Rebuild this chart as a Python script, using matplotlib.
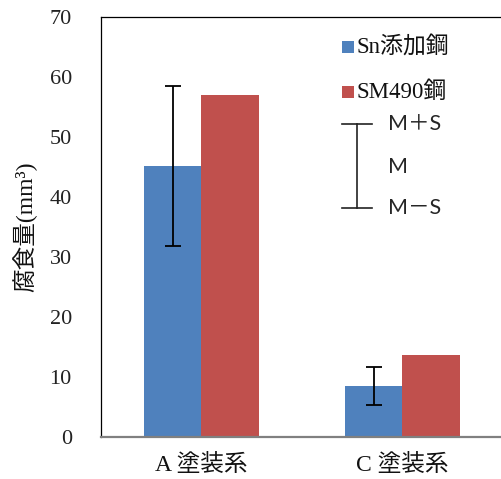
import matplotlib
matplotlib.use("Agg")
import matplotlib.pyplot as plt
from matplotlib.patches import Rectangle
from matplotlib.lines import Line2D
import numpy as np

categories = ["A 塗装系", "C 塗装系"]
series_names = ["Sn添加鋼", "SM490鋼"]
sn_values = [45.2, 8.5]
sn_err_upper = [58.5, 11.7]
sn_err_lower = [31.8, 5.3]
sm_values = [57.0, 13.7]
colors = ["#4F81BD", "#C0504D"]
yticks = [0, 10, 20, 30, 40, 50, 60, 70]

W, H = 502, 479
SERIF = ["Liberation Serif", "Noto Sans CJK JP"]
SANS = ["Lato", "Noto Sans CJK JP"]

fig = plt.figure(figsize=(W / 100, H / 100), dpi=100)

def fx(x):
    return x / W

def fy(y):
    return 1 - y / H

ax = fig.add_axes([fx(101), fy(437), 402 / W, 420 / H])
x = np.arange(len(categories))
bw = 0.285
yerr = np.array([np.array(sn_values) - np.array(sn_err_lower),
                 np.array(sn_err_upper) - np.array(sn_values)])
ax.bar(x - bw / 2, sn_values, bw, color=colors[0], zorder=2,
       yerr=yerr, error_kw=dict(ecolor="black", elinewidth=1.3, capsize=5.5, capthick=1.3, zorder=3))
ax.bar(x + bw / 2, sm_values, bw, color=colors[1], zorder=2)

ax.set_xlim(-0.5, 1.5)
ax.set_ylim(0, 70)
ax.set_yticks(yticks)
ax.set_yticklabels([str(v) for v in yticks], fontfamily=SERIF, fontsize=16, color="#222222")
ax.set_xticks(x)
ax.set_xticklabels(categories, fontfamily=SERIF, fontsize=17, color="#111111")
ax.tick_params(axis="y", length=0, pad=21)
ax.tick_params(axis="x", length=0, pad=12)
for s in ["left", "top", "right"]:
    ax.spines[s].set_color("black")
    ax.spines[s].set_linewidth(0.9)
ax.spines["bottom"].set_color("#808080")
ax.spines["bottom"].set_linewidth(1.6)

fig.text(fx(25), fy(227), "腐食量(mm³)", rotation=90, ha="center", va="center",
         fontfamily=SERIF, fontsize=17, color="#111111")

# legend for series
for i, (name, y) in enumerate(zip(series_names, [47, 92])):
    fig.add_artist(Rectangle((fx(342), fy(y + 6)), 12 / W, 12 / H,
                             transform=fig.transFigure, facecolor=colors[i], edgecolor="none"))
    fig.text(fx(357), fy(y), name, ha="left", va="center", fontfamily=SERIF,
             fontsize=16.5, color="#111111")

# error bar key
fig.add_artist(Line2D([fx(357), fx(357)], [fy(124), fy(208)], transform=fig.transFigure,
                      color="#222222", lw=1.2))
for yy in [124, 208]:
    fig.add_artist(Line2D([fx(342), fx(372)], [fy(yy), fy(yy)], transform=fig.transFigure,
                          color="#222222", lw=1.2))
for txt, yy in [("M＋S", 124), ("M", 167), ("M－S", 208)]:
    fig.text(fx(388), fy(yy), txt, ha="left", va="center", fontfamily=SANS,
             fontsize=15.5, color="#262626")

fig.savefig("out.png", dpi=100)
